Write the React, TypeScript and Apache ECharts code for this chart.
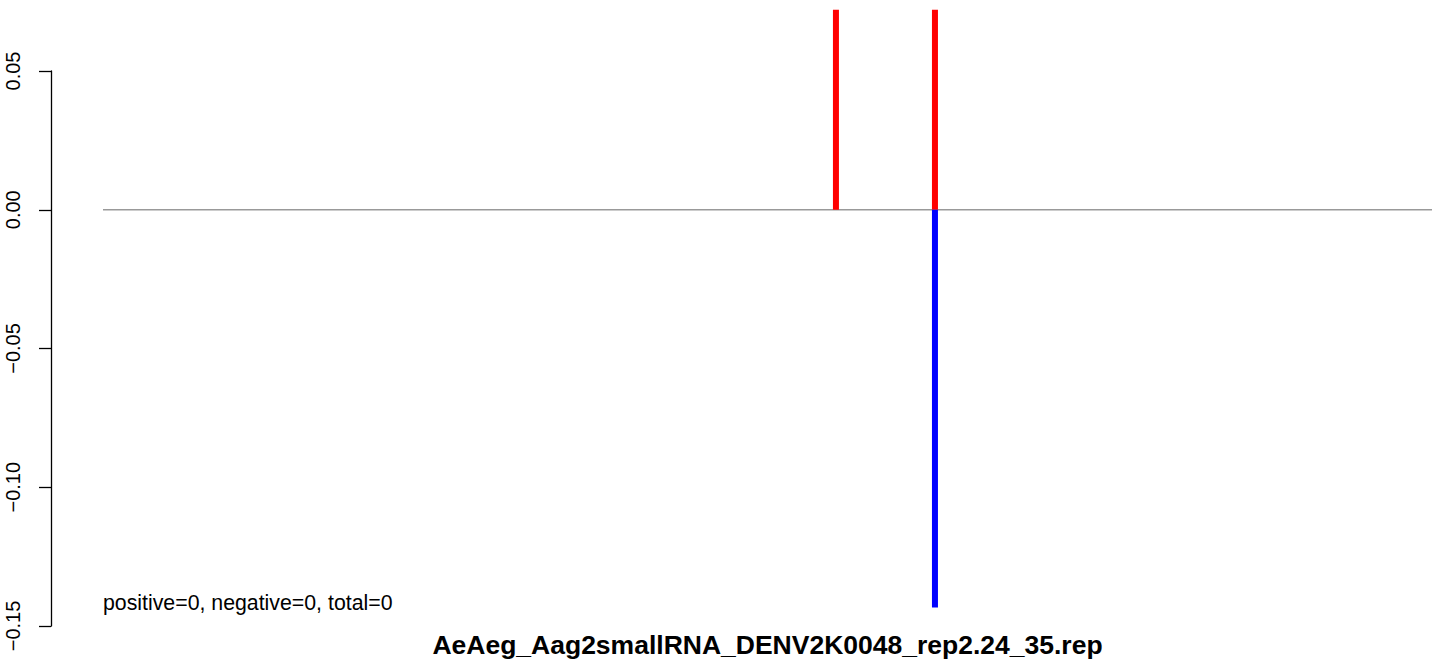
import React, { useEffect, useRef } from "react";
import * as echarts from "echarts";

// x positions along the plotted range (arbitrary units 0..10000)
const xMin = 0;
const xMax = 10000;
const redPositions = [5515, 6260];
const redValues = [0.0721, 0.0721];
const bluePositions = [6260];
const blueValues = [-0.1433];
const yTicks = [-0.15, -0.1, -0.05, 0, 0.05];
const titleText = "AeAeg_Aag2smallRNA_DENV2K0048_rep2.24_35.rep";
const noteText = "positive=0, negative=0, total=0";

export default function App() {
  const ref = useRef<HTMLDivElement>(null);
  useEffect(() => {
    if (!ref.current) return;
    const chart = echarts.init(ref.current, null, { renderer: "svg" });
    const font = "'Liberation Sans', Arial, Helvetica, sans-serif";
    chart.setOption({
      animation: false,
      backgroundColor: "#ffffff",
      grid: { left: 103, right: 15, top: 71, bottom: 36, containLabel: false },
      xAxis: {
        type: "value",
        min: xMin,
        max: xMax,
        show: false,
      },
      yAxis: {
        type: "value",
        min: yTicks[0],
        max: yTicks[yTicks.length - 1],
        interval: 0.05,
        offset: 52,
        splitLine: { show: false },
        axisLine: { show: true, onZero: false, lineStyle: { color: "#000", width: 1.3 } },
        axisTick: { show: true, length: 12, lineStyle: { color: "#000", width: 1.3 } },
        axisLabel: {
          rotate: 90,
          margin: 28,
          fontFamily: font,
          fontSize: 20,
          color: "#000",
          formatter: (v: number) => {
            const s = Math.abs(v).toFixed(2);
            return v < -1e-9 ? "\u2212" + s : s;
          },
        },
      },
      series: [
        {
          type: "line",
          data: [
            [xMin, 0],
            [xMax, 0],
          ],
          symbol: "none",
          lineStyle: { color: "#999999", width: 1.5 },
          silent: true,
          z: 1,
        },
        {
          type: "bar",
          data: redPositions.map((x, i) => [x, redValues[i]]),
          barWidth: 6,
          barGap: "-100%",
          clip: false,
          itemStyle: { color: "#ff0000" },
          z: 2,
        },
        {
          type: "bar",
          data: bluePositions.map((x, i) => [x, blueValues[i]]),
          barWidth: 6,
          barGap: "-100%",
          clip: false,
          itemStyle: { color: "#0000ff" },
          z: 3,
        },
      ],
      graphic: [
        {
          type: "text",
          x: 103,
          y: 603,
          style: {
            text: noteText,
            fontFamily: font,
            fontSize: 21.3,
            fill: "#000",
            textVerticalAlign: "middle",
          },
        },
        {
          type: "text",
          x: 767.5,
          y: 645,
          style: {
            text: titleText,
            fontFamily: font,
            fontSize: 26.5,
            fontWeight: "bold",
            fill: "#000",
            textAlign: "center",
            textVerticalAlign: "middle",
          },
        },
      ],
    });
    return () => chart.dispose();
  }, []);
  return (
    <div
      ref={ref}
      style={{ position: "fixed", left: 0, top: 0, width: 1447, height: 662 }}
    />
  );
}
